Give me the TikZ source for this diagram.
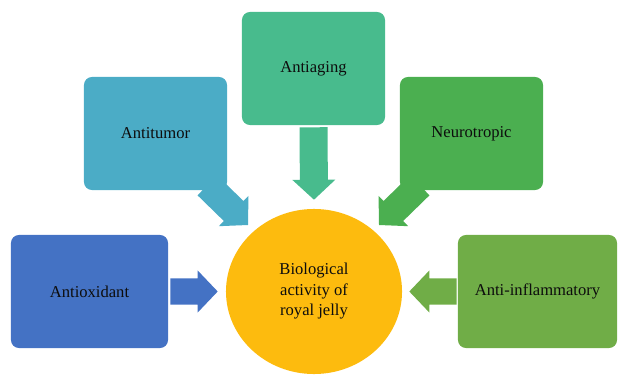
\documentclass[tikz,border=0pt]{standalone}
\usepackage{fontspec}
\setmainfont{Liberation Serif}
\usetikzlibrary{calc,shapes.geometric,backgrounds}

\definecolor{oxidblue}{HTML}{4472C4}
\definecolor{tumorteal}{HTML}{4BACC6}
\definecolor{aginggreen}{HTML}{48BB8D}
\definecolor{neurogreen}{HTML}{4BAF50}
\definecolor{inflgreen}{HTML}{70AD47}
\definecolor{jellygold}{HTML}{FDBB0E}

\begin{document}
\begin{tikzpicture}[x=0.025cm, y=-0.025cm,
	every node/.style={font=\fontsize{11.8}{14.6}\selectfont, text=black!95},
	effect/.style={rectangle, rounded corners=0.2cm, minimum height=2.825cm, inner sep=0pt},
	blockarrow/.style 2 args={to path={let \p1=(\tikztostart), \p2=(\tikztotarget),
		\n1={atan2(\y2-\y1,\x2-\x1)}, \n2={veclen(\x2-\x1,\y2-\y1)} in
		($(\p1)+(\n1+90:#1)$) -- ++(\n1:{\n2-0.5cm}) -- ++(\n1+90:{#2-#1}) -- (\p2)
		-- ($(\p1)+(\n1:{\n2-0.5cm})+(\n1-90:#2)$) -- ++(\n1+90:{#2-#1})
		-- ($(\p1)+(\n1-90:#1)$) -- cycle}}]
	\useasboundingbox (0,0) rectangle (628,385);
	\node[ellipse, fill=jellygold, minimum width=4.4cm, minimum height=4.125cm, align=center] (jelly) at (314,291.5) {Biological\\ activity of\\ royal jelly};
	\node[effect, fill=oxidblue, minimum width=3.925cm] (oxid) at (89.5,291.5) {Antioxidant};
	\node[effect, fill=tumorteal, minimum width=3.575cm] (tumor) at (155.5,133.5) {Antitumor};
	\node[effect, fill=aginggreen, minimum width=3.575cm] (aging) at (313.5,68.5) {Antiaging};
	\node[effect, fill=neurogreen, minimum width=3.575cm] (neuro) at (471.5,133.5) {Neurotropic};
	\node[effect, fill=inflgreen, minimum width=3.975cm] (infl) at (537.5,291.5) {Anti-inflammatory};
	\coordinate (tumortip) at (248,225);
	\coordinate (neurotip) at (379,225);
	\begin{scope}[on background layer]
		\fill[oxidblue] ([xshift=0.05cm]oxid.east) to[blockarrow={0.325cm}{0.525cm}] ([xshift=-0.2cm]jelly.west);
		\fill[inflgreen] ([xshift=-0.025cm]infl.west) to[blockarrow={0.325cm}{0.525cm}] ([xshift=0.175cm]jelly.east);
		\fill[aginggreen] ([yshift=-0.05cm]aging.south) to[blockarrow={0.35cm}{0.54cm}] ([yshift=0.225cm]jelly.north);
		\fill[tumorteal] ([shift={(-20,-5)}]tumor.south east) to[blockarrow={0.35cm}{0.53cm}] (tumortip);
		\fill[neurogreen] ([shift={(20,-5)}]neuro.south west) to[blockarrow={0.35cm}{0.53cm}] (neurotip);
	\end{scope}
\end{tikzpicture}
\end{document}
